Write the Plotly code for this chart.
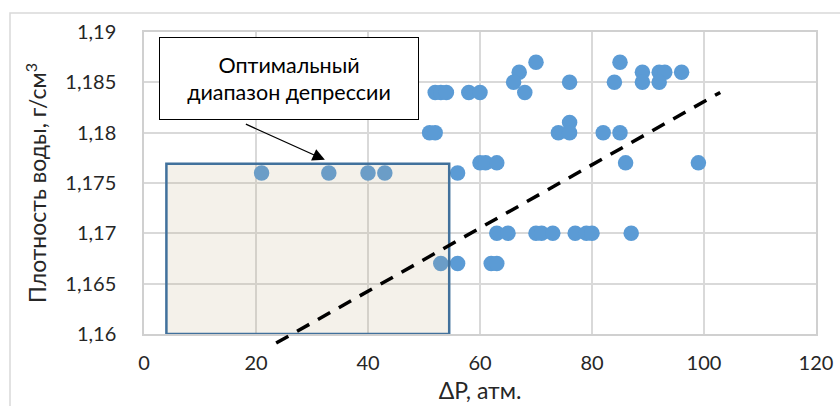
import plotly.graph_objects as go

# ---- data ----
dp_values = [70, 85,
             67, 89, 92, 93, 96,
             66, 76, 84, 89, 92,
             52, 53, 54, 58, 60, 68,
             76,
             51, 52, 74, 76, 82, 85,
             60, 61, 63, 86, 99,
             21, 33, 40, 43, 56,
             63, 65, 70, 71, 73, 77, 79, 80, 87,
             53, 56, 62, 63]
density_values = [1.187] * 2 + [1.186] * 5 + [1.185] * 5 + [1.184] * 6 + [1.181] * 1 + \
                 [1.180] * 6 + [1.177] * 5 + [1.176] * 5 + [1.170] * 9 + [1.167] * 4

x_range = [0, 120]
y_range = [1.16, 1.19]
x_tickvals = [0, 20, 40, 60, 80, 100, 120]
x_ticktext = ["0", "20", "40", "60", "80", "100", "120"]
y_tickvals = [1.16, 1.165, 1.17, 1.175, 1.18, 1.185, 1.19]
y_ticktext = ["1,16", "1,165", "1,17", "1,175", "1,18", "1,185", "1,19"]

# optimal range box (data units)
box_x = [4, 54.5]
box_y = [1.16, 1.1769]

# dashed trend line endpoints (data units)
trend_x = [23.6, 102.9]
trend_y = [1.1591, 1.1840]

# callout
callout_text = "Оптимальный<br>диапазон депрессии"
callout_pos = [25.9, 1.18536]
arrow_tip = [32.3, 1.1773]

FONT = "Lato"
TXT = "#262626"

fig = go.Figure()
fig.add_trace(go.Scatter(
    x=dp_values, y=density_values, mode="markers",
    marker=dict(size=15.5, color="#5b9bd5", line=dict(width=0)),
    showlegend=False, hoverinfo="x+y"))

# optimal box
fig.add_shape(type="rect", xref="x", yref="y",
              x0=box_x[0], x1=box_x[1], y0=box_y[0], y1=box_y[1],
              fillcolor="rgba(190,170,130,0.17)",
              line=dict(color="#41719c", width=2.5), layer="above")

# trend line (domain refs so it is not clipped at the plot edge)
def xd(v):
    return (v - x_range[0]) / (x_range[1] - x_range[0])

def yd(v):
    return (v - y_range[0]) / (y_range[1] - y_range[0])

fig.add_shape(type="line", xref="x domain", yref="y domain",
              x0=xd(trend_x[0]), y0=yd(trend_y[0]),
              x1=xd(trend_x[1]), y1=yd(trend_y[1]),
              line=dict(color="#000000", width=3.5, dash="14px,10px"),
              layer="above")

# outer chart border
fig.add_shape(type="rect", xref="paper", yref="paper",
              x0=-0.1994, x1=1.05, y0=-0.3, y1=1.0629,
              line=dict(color="#d9d9d9", width=1.5), fillcolor="rgba(0,0,0,0)",
              layer="below")

# callout box
fig.add_annotation(x=callout_pos[0], y=callout_pos[1], xref="x", yref="y",
                   text=callout_text, showarrow=False,
                   font=dict(family=FONT, size=21.5, color="#000000"),
                   bgcolor="#ffffff", bordercolor="#000000", borderwidth=1,
                   borderpad=0, width=258, height=81,
                   xanchor="center", yanchor="middle")
# arrow
fig.add_annotation(x=arrow_tip[0], y=arrow_tip[1], xref="x", yref="y",
                   text=" ", showarrow=True, ax=-82, ay=-37,
                   arrowhead=2, arrowsize=1.9, arrowwidth=1.3,
                   arrowcolor="#000000", standoff=0)

fig.update_layout(
    width=840, height=406,
    margin=dict(l=144, r=24, t=32, b=72),
    paper_bgcolor="#ffffff", plot_bgcolor="#ffffff",
    font=dict(family=FONT, color=TXT),
    separators=", ",
)
fig.update_xaxes(range=x_range, tickvals=x_tickvals, ticktext=x_ticktext,
                 automargin=False,
                 showgrid=True, gridcolor="#d9d9d9", gridwidth=1.5,
                 showline=True, linecolor="#d0d0d0", linewidth=1.5, mirror=True,
                 zeroline=False, ticks="", ticklabelstandoff=10,
                 tickfont=dict(family=FONT, size=20, color=TXT),
                 title=dict(text="ΔP, атм.", font=dict(family=FONT, size=23, color=TXT),
                            standoff=10))
fig.update_yaxes(range=y_range, tickvals=y_tickvals, ticktext=y_ticktext,
                 automargin=False,
                 showgrid=True, gridcolor="#d9d9d9", gridwidth=1.5,
                 showline=True, linecolor="#d0d0d0", linewidth=1.5, mirror=True,
                 zeroline=False, ticks="", ticklabelstandoff=22,
                 tickfont=dict(family=FONT, size=20, color=TXT),
                 title=dict(text="Плотность воды, г/см<sup>3</sup>",
                            font=dict(family=FONT, size=23, color=TXT), standoff=12))

fig.write_html("out.html")
